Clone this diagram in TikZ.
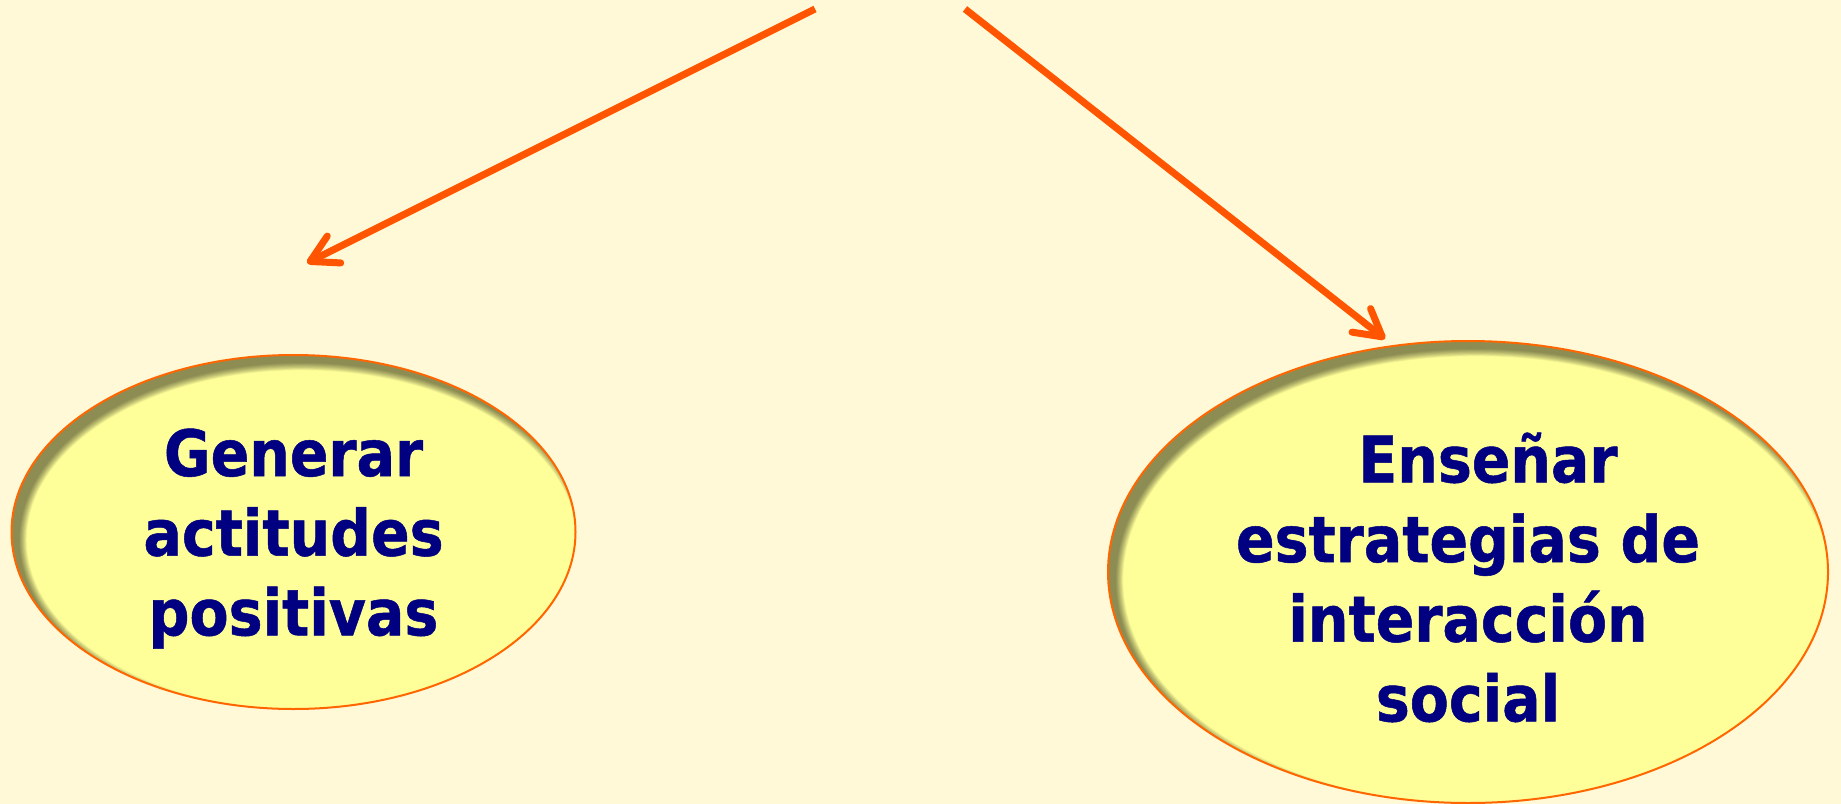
\documentclass[tikz,border=0pt]{standalone}
\usepackage{fontspec}
\setmainfont{DejaVu Sans}[FakeStretch=0.89, BoldFeatures={FakeBold=0.8}]
\usetikzlibrary{shapes.geometric,arrows.meta,calc}

\definecolor{paper}{HTML}{FFF9D7}
\definecolor{bubblefill}{HTML}{FFFF99}
\definecolor{rim}{HTML}{FF6600}
\definecolor{arrowc}{HTML}{FF5500}
\definecolor{ink}{HTML}{000080}

\newcommand{\lift}{\rule{0pt}{18.2pt}}

\begin{document}
\begin{tikzpicture}[x=0.3pt, y=-0.3pt]
        % Define block styles
        \tikzstyle{bubble} = [ellipse, draw=rim, line width=0.6pt, fill=bubblefill,
            inner sep=0pt, text=ink, align=center,
            font=\fontsize{19.2pt}{23.9pt}\selectfont\bfseries,
            path picture={
                \foreach \k in {0,...,9}
                    \fill[black, opacity=0.055, even odd rule]
                        let \p1 = (path picture bounding box.north east),
                            \p2 = (path picture bounding box.south west) in
                        (\p2) rectangle (\p1)
                        ([shift={(8,8)}]path picture bounding box.center)
                        ellipse ({(\x1-\x2)/2-\k*0.24pt} and {(\y1-\y2)/2-\k*0.24pt});
            }]
        \tikzstyle{line} = [draw=arrowc, line width=2.1pt,
            -{Straight Barb[length=8pt, width=9pt, round]}]

        \path [use as bounding box, fill=paper] (0,0) rectangle (1841,804);

        % Nodes
        \node [bubble, minimum width=169.2pt, minimum height=106.2pt] (attitudes) at (293.5,532)
            {\lift Generar\\actitudes\\positivas};
        \node [bubble, minimum width=216pt, minimum height=138.6pt] (strategies) at (1468,572)
            {\lift\hspace*{12pt}Enseñar\\estrategias de\\interacción\\social};
        \coordinate (srcleft) at (815,9);
        \coordinate (tipleft) at (307,263);
        \coordinate (srcright) at (965,9);
        \coordinate (tipright) at (1385,339);

        % Arrows
        \path [line] (srcleft) -- (tipleft);
        \path [line] (srcright) -- (tipright);
    \end{tikzpicture}
\end{document}
